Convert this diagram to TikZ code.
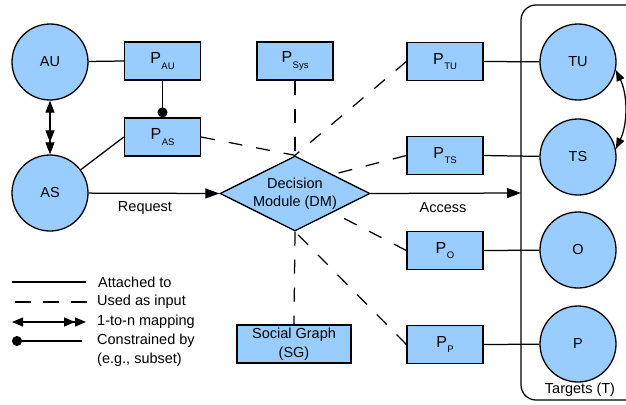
\documentclass[tikz,border=0pt]{standalone}
\usepackage{fontspec}
\setmainfont{Liberation Sans}
\usetikzlibrary{shapes.geometric,arrows.meta}
\definecolor{fillblue}{RGB}{153,204,255}
% P with a small lowered index, as used in the policy boxes
\newcommand{\polname}[1]{{\fontsize{16}{16}\selectfont P}\kern0.5pt\raisebox{-5.5pt}{\fontsize{9.5}{9.5}\selectfont #1}}
\begin{document}
\begin{tikzpicture}[x=1pt,y=-1pt,
  every node/.style={font=\fontsize{14.5}{17.5}\selectfont},
  blob/.style={circle,draw,fill=fillblue,minimum size=76pt,inner sep=0pt,line width=1.3pt},
  pbox/.style={rectangle,draw,fill=fillblue,minimum width=76pt,minimum height=38pt,inner sep=0pt,line width=1.3pt},
  link/.style={line width=1.25pt},
  feed/.style={line width=1.25pt,dash pattern=on 14pt off 14pt},
  lbl/.style={anchor=west,inner sep=0pt}
]
\useasboundingbox (0,0) rectangle (626,404);

% targets container
\draw[line width=1.25pt,rounded corners=15pt] (521,5) rectangle (640,400);
\node (tgt) at (580,390) {Targets (T)};
\coordinate (tgtin) at (521,193);

% actors
\node[blob] (AU) at (50,62) {AU};
\node[blob] (AS) at (50,193) {AS};

% policies
\node[pbox] (PAU) at (162.5,61) {\polname{AU}};
\node[pbox] (PAS) at (162.5,137) {\polname{AS}};
\node[pbox] (PSys) at (295,61) {\polname{Sys}};
\node[pbox] (PTU) at (445,61.5) {\polname{TU}};
\node[pbox] (PTS) at (445,155.5) {\polname{TS}};
\node[pbox] (PO) at (445,250.5) {\polname{O}};
\node[pbox] (PP) at (445,344.5) {\polname{P}};

% decision module and social graph
\node[diamond,draw,fill=fillblue,line width=1.3pt,aspect=2,inner sep=0pt,
      minimum width=150pt,minimum height=75pt,align=center] (DM) at (295,193.5)
      {Decision\\Module (DM)};
\node[rectangle,draw,fill=fillblue,line width=1.3pt,minimum width=114pt,minimum height=38pt,
      inner sep=0pt,align=center,font=\fontsize{14.5}{18.5}\selectfont] (SG) at (294,344) {Social Graph\\(SG)};

% targets
\node[blob] (TU) at (578,62) {TU};
\node[blob] (TS) at (578,157) {TS};
\node[blob] (O) at (578,250) {O};
\node[blob] (P) at (578,344) {P};

% attachments
\draw[link] (AU) -- (PAU.west);
\draw[link] (AS) -- (PAS.west);
\draw[link] (PTU.east) -- (TU);
\draw[link] (PTS.east) -- (TS);
\draw[link] (PO.east) -- (O);
\draw[link] (PP.east) -- (P);

% constraint and mappings
\draw[link,-{Circle[length=10pt]}] (PAU.south) -- (PAS.north);
\draw[link,{Triangle[length=12pt,width=9pt]}-{Triangle[length=12pt,width=9pt]Triangle[length=12pt,width=9pt]}] (AU) -- (AS);
\draw[link,{Triangle[length=11pt,width=8pt]}-{Triangle[length=11pt,width=8pt]}] (TU.-12) .. controls +(12,25) and +(12,-25) .. (TS.12);

% request and access
\draw[link,-{Triangle[length=14pt,width=10pt]}] (AS) -- (DM.west);
\draw[link,-{Triangle[length=14pt,width=10pt]}] (DM.east) -- (tgtin);
\node (req) at (145,208) {Request};
\node (acc) at (443,208) {Access};

% inputs to the decision module
\draw[feed] (PSys.south) -- (DM.north);
\draw[feed] (PAS.east) -- (DM.north);
\draw[feed] (PTU.west) -- (DM.north);
\draw[feed] (PTS.west) -- (DM.north east);
\draw[feed] (PO.west) -- (DM.south east);
\draw[feed] (PP.west) -- (DM.south);
\draw[feed] (DM.south) -- (SG.north);

% legend
\coordinate (l1a) at (12,282); \coordinate (l1b) at (86,282);
\coordinate (l2a) at (15,302); \coordinate (l2b) at (87,302);
\coordinate (l3a) at (12,322); \coordinate (l3b) at (86,322);
\coordinate (l4a) at (12,341); \coordinate (l4b) at (82,341);
\draw[link] (l1a) -- (l1b);
\draw[line width=1.25pt,dash pattern=on 16pt off 12pt] (l2a) -- (l2b);
\draw[link,{Triangle[length=11pt,width=9pt]}-{Triangle[length=11pt,width=9pt]Triangle[length=11pt,width=9pt]}] (l3a) -- (l3b);
\draw[link,{Circle[length=10pt]}-] (l4a) -- (l4b);
\node[lbl] (t1) at (98,282) {Attached to};
\node[lbl] (t2) at (97,302) {Used as input};
\node[lbl] (t3) at (97,322) {1-to-n mapping};
\node[lbl] (t4) at (97,341) {Constrained by};
\node[lbl] (t5) at (97,360) {(e.g., subset)};
\end{tikzpicture}
\end{document}
